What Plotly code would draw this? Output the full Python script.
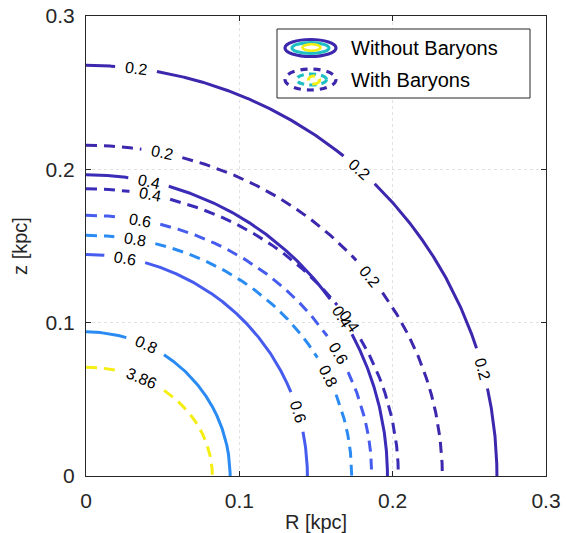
import numpy as np
import plotly.graph_objects as go

# ---- data ----
solid_levels = ["0.2", "0.4", "0.6", "0.8"]
solid_R = [0.268, 0.1966, 0.1444, 0.094]      # R-axis intercept (kpc)
solid_z = [0.2678, 0.1965, 0.1444, 0.094]     # z-axis intercept (kpc)
solid_label_t = [[7, 41.7, 74.8], [12, 58], [10.1, 73.1], [24.5]]

dashed_levels = ["0.2", "0.4", "0.6", "0.8", "3.86"]
dashed_R = [0.2324, 0.2037, 0.1864, 0.1733, 0.0824]
dashed_z = [0.2157, 0.1874, 0.170, 0.157, 0.071]
dashed_label_t = [[12.3, 52.8], [11.8, 57.5], [10.9, 62], [10.6, 65.4], [26.3]]

level_colors = {"0.2": "#3d27ad", "0.4": "#3b2cb8", "0.6": "#465cef",
                "0.8": "#2a8cf2", "3.86": "#f4ee12"}
teal = "#1fbfc4"

tick_vals = [0, 0.1, 0.2, 0.3]
tick_text = ["0", "0.1", "0.2", "0.3"]

# ---- geometry helpers ----
PX = 460 / 0.3          # pixels per kpc (square axes)
X0, Y0 = 86, 476        # pixel origin of plot area
FONT = "Liberation Sans, Arial, Helvetica, sans-serif"
LABEL_SIZE = 16


def px2x(px):
    return (px - X0) / PX


def py2y(py):
    return (Y0 - py) / PX


def label_width(txt):
    return sum(LABEL_SIZE * (0.278 if c == "." else 0.556) for c in txt)


fig = go.Figure()
annotations = []


def add_contour(a, b, lvl, t_labels, dash):
    t = np.radians(np.linspace(0, 90, 1441))
    x = a * np.sin(t)
    y = b * np.cos(t)
    mask = np.zeros_like(x, dtype=bool)
    for tl in t_labels:
        tr = np.radians(tl)
        lx, ly = a * np.sin(tr), b * np.cos(tr)
        ang = np.degrees(np.arctan2(b * np.sin(tr), a * np.cos(tr)))
        half = label_width(lvl) / 2 + 9.5
        d = np.hypot((x - lx) * PX, (y - ly) * PX)
        mask |= d < half
        annotations.append(dict(x=lx, y=ly, xref="x", yref="y", text=lvl,
                                showarrow=False, textangle=ang,
                                font=dict(family=FONT, size=LABEL_SIZE, color="black"),
                                xanchor="center", yanchor="middle"))
    x = np.where(mask, np.nan, x)
    y = np.where(mask, np.nan, y)
    fig.add_trace(go.Scatter(x=x, y=y, mode="lines", connectgaps=False,
                             line=dict(color=level_colors[lvl], width=3, dash=dash),
                             hoverinfo="skip", showlegend=False))


for lvl, a, b, tl in zip(solid_levels, solid_R, solid_z, solid_label_t):
    add_contour(a, b, lvl, tl, "solid")
for lvl, a, b, tl in zip(dashed_levels, dashed_R, dashed_z, dashed_label_t):
    add_contour(a, b, lvl, tl, "11px,7px")

# ---- legend (drawn manually to mimic contour icons) ----
shapes = []
shapes.append(dict(type="rect", xref="x", yref="y",
                   x0=px2x(277), x1=px2x(530), y0=py2y(98), y1=py2y(29),
                   line=dict(color="#262626", width=1), fillcolor="white", layer="above"))


def ell(cx, cy, rx, ry, color, dash="solid", w=3.2):
    return dict(type="circle", xref="x", yref="y",
                x0=px2x(cx - rx), x1=px2x(cx + rx), y0=py2y(cy + ry), y1=py2y(cy - ry),
                line=dict(color=color, width=w, dash=dash), layer="above")


shapes.append(ell(310.5, 48, 25.5, 8.5, level_colors["0.2"]))
shapes.append(ell(310.5, 48, 18.5, 5.4, teal))
shapes.append(ell(311.5, 47.5, 9, 3.2, level_colors["3.86"], w=2.6))
shapes.append(ell(310.5, 79.5, 25.5, 10.5, level_colors["0.2"], dash="7px,6px"))
shapes.append(ell(311.5, 79.5, 15, 5.5, teal, dash="7px,5px"))
shapes.append(ell(314, 80, 5.5, 4, level_colors["3.86"], dash="9px,5px"))

annotations.append(dict(x=px2x(349), y=py2y(48), xref="x", yref="y", text="Without Baryons",
                        showarrow=False, xanchor="left", yanchor="middle",
                        font=dict(family=FONT, size=20, color="black")))
annotations.append(dict(x=px2x(349), y=py2y(80), xref="x", yref="y", text="With Baryons",
                        showarrow=False, xanchor="left", yanchor="middle",
                        font=dict(family=FONT, size=20, color="black")))

axis_common = dict(range=[0, 0.3], tickvals=tick_vals, ticktext=tick_text,
                   showgrid=True, gridcolor="#e2e2e2", griddash="dot", gridwidth=1,
                   zeroline=False, showline=True, linecolor="#262626", linewidth=1,
                   mirror="allticks", ticks="inside", ticklen=5, tickcolor="#262626",
                   tickfont=dict(family=FONT, size=21, color="#262626"),
                   ticklabelstandoff=6, automargin=False)

fig.update_layout(
    width=566, height=533,
    margin=dict(l=86, r=20, t=16, b=57, pad=0),
    paper_bgcolor="white", plot_bgcolor="white",
    xaxis=dict(**axis_common,
               title=dict(text="R [kpc]", font=dict(family=FONT, size=20, color="#262626"),
                          standoff=9)),
    yaxis=dict(**axis_common,
               title=dict(text="z [kpc]", font=dict(family=FONT, size=20, color="#262626"),
                          standoff=12)),
    shapes=shapes, annotations=annotations, showlegend=False,
)

fig.write_html("out.html")
